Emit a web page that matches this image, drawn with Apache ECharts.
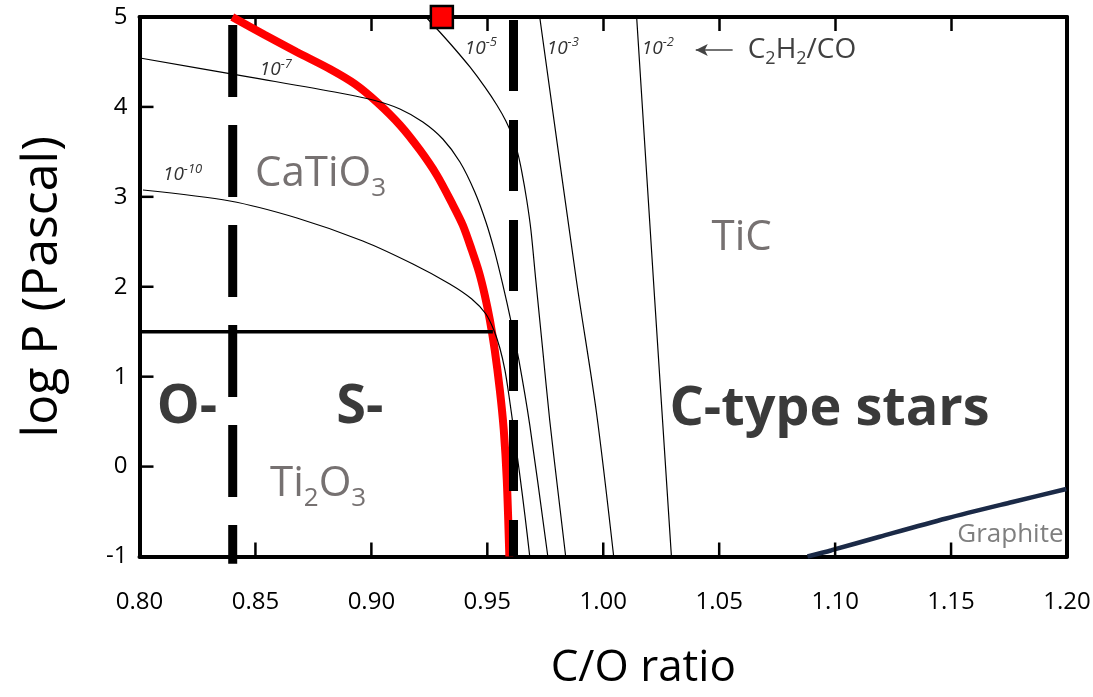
<!DOCTYPE html>
<html>
<head>
<meta charset="utf-8">
<script src="https://cdn.jsdelivr.net/npm/echarts@6/dist/echarts.min.js"></script>
<style>html,body{margin:0;padding:0;background:#fff}#c{width:1093px;height:697px}</style>
</head>
<body>
<div id="c"></div>
<script>
// ---------- data ----------
const xTickValues = [0.80, 0.85, 0.90, 0.95, 1.00, 1.05, 1.10, 1.15, 1.20];
const yTickValues = [-1, 0, 1, 2, 3, 4, 5];

const redCurve = [[0.840,5.0],[0.8541,4.800],[0.8678,4.611],[0.8821,4.422],[0.8929,4.255],[0.9028,4.044],[0.9123,3.799],[0.9209,3.521],[0.9282,3.243],[0.9347,2.932],[0.9394,2.687],[0.9433,2.409],[0.9464,2.164],[0.9489,1.908],[0.9511,1.630],[0.9532,1.297],[0.9554,0.852],[0.9571,0.407],[0.9584,-0.149],[0.9595,-1.0]];
const curveE10 = [[0.8015,3.076],[0.8390,2.954],[0.8679,2.765],[0.8963,2.509],[0.9179,2.253],[0.9338,2.031],[0.9433,1.864],[0.9494,1.697],[0.9528,1.519],[0.9554,1.319],[0.9576,1.074],[0.9593,0.796],[0.9614,0.407],[0.9640,-0.093],[0.9662,-0.538],[0.9683,-1.0]];
const curveE7 = [[0.8002,4.544],[0.8476,4.331],[0.8864,4.155],[0.9015,4.071],[0.9123,3.977],[0.9222,3.832],[0.9308,3.643],[0.9382,3.387],[0.9446,3.054],[0.9494,2.720],[0.9532,2.387],[0.9567,2.020],[0.9601,1.630],[0.9636,1.186],[0.9683,0.463],[0.9761,-1.0]];
const curveE5 = [[0.9235,5.0],[0.9295,4.833],[0.9360,4.644],[0.9425,4.444],[0.9489,4.222],[0.9541,4.021],[0.9580,3.843],[0.9610,3.665],[0.9631,3.488],[0.9649,3.276],[0.9670,2.965],[0.9688,2.631],[0.9709,2.075],[0.9739,1.297],[0.9769,0.518],[0.9804,-0.260],[0.9838,-1.0]];
const curveE3 = [[0.9726,5.0],[0.9884,2.075],[0.9971,0.596],[1.0045,-1.0]];
const curveE2 = [[1.0144,5.0],[1.0222,1.853],[1.0294,-1.0]];
const graphiteCurve = [[1.0881,-1.0],[1.0985,-0.930],[1.1192,-0.780],[1.1479,-0.577],[1.1765,-0.394],[1.1997,-0.250]];
const dashO = [[0.8402,5.0],[0.8402,-1.08]];
const dashS = [[0.9613,5.0],[0.9613,-1.0]];
const boundary15 = [[0.800,1.5],[0.9524,1.5]];
const squarePoint = [[0.9304,5.0]];
const arrowFrom = [1.0558,4.633];
const arrowTo = [1.0399,4.633];

// annotation anchors and texts
const regionAnchors = [[0.8205,0.652],[0.8950,0.652],[1.0976,0.63]];
const regionTexts = ['O-','S-','C-type stars'];
const phaseAnchors = [[0.8498,3.254],[0.8563,-0.193],[1.0597,2.537]];
const phaseTexts = ['{m|CaTiO}{s|3}','{m|Ti}{s|2}{m|O}{s|3}','{m|TiC}'];
const expAnchors = [[0.8101,3.243],[0.8519,4.411],[0.9403,4.652],[0.9756,4.652],[1.0166,4.652]];
const expTexts = ['{b|10}{u|-10}','{b|10}{u|-7}','{b|10}{u|-5}','{b|10}{u|-3}','{b|10}{u|-2}'];
const ratioAnchor = [1.0623,4.633];
const ratioText = '{m|C}{s|2}{m|H}{s|2}{m|/CO}';
const graphiteAnchor = [1.1985,-0.76];
const graphiteText = 'Graphite';

// ---------- chart ----------
const FONT = 'Open Sans';
const chart = echarts.init(document.getElementById('c'));

function thin(data){
  return {type:'line', data, smooth:0.3, symbol:'none', silent:true, z:3,
    lineStyle:{color:'#000', width:1.2}};
}
const labelSeries = (anchors, texts, align, rich, textStyle) => ({
  type:'scatter', symbolSize:1, silent:true, z:10,
  itemStyle:{color:'rgba(0,0,0,0)', opacity:1},
  data: anchors.map((a,i)=>({value:a, label:{formatter:texts[i]}})),
  label:Object.assign({show:true, position:'inside', align, verticalAlign:'middle', rich}, textStyle||{})
});
// inward ticks on bottom / left sides, placed through the axes' own scales
const tickSeries = (data, horizontal) => ({
  type:'custom', data, silent:true, clip:false, z:6,
  renderItem:(params, api) => {
    const p = api.coord([api.value(0), api.value(1)]);
    const shape = horizontal ? {x1:p[0], y1:p[1], x2:p[0]+14, y2:p[1]}
                             : {x1:p[0], y1:p[1], x2:p[0], y2:p[1]-14};
    return {type:'line', shape, style:{stroke:'#000', lineWidth:2.5}};
  }
});

const phaseRich = {
  m:{fontFamily:FONT, fontSize:42, color:'#767171', lineHeight:56},
  s:{fontFamily:FONT, fontSize:26, color:'#767171', lineHeight:26, verticalAlign:'bottom'}
};
const expRich = {
  b:{fontFamily:FONT, fontStyle:'italic', fontSize:19, color:'#333', lineHeight:24},
  u:{fontFamily:FONT, fontStyle:'italic', fontSize:13, color:'#333', lineHeight:14, verticalAlign:'top'}
};
const ratioRich = {
  m:{fontFamily:FONT, fontSize:28, color:'#404040', lineHeight:36},
  s:{fontFamily:FONT, fontSize:18, color:'#404040', lineHeight:20, verticalAlign:'bottom'}
};

const axisCommon = {
  type:'value', splitLine:{show:false},
  axisLine:{show:true, onZero:false, lineStyle:{color:'#000', width:4}},
  axisTick:{show:true, inside:true, length:14, lineStyle:{color:'#000', width:2.5}}
};

chart.setOption({
  animation:false,
  backgroundColor:'#fff',
  grid:{left:139.5, right:26, top:17, bottom:140.5, containLabel:false, outerBoundsMode:'none'},
  xAxis:[
    Object.assign({}, axisCommon, {
      min:0.8, max:1.2, interval:0.05, position:'bottom', axisTick:{show:false},
      axisLabel:{margin:34, fontFamily:FONT, fontSize:24, color:'#000',
        formatter:v=>{const t=xTickValues.find(x=>Math.abs(x-v)<1e-6); return t===undefined?'':t.toFixed(2);}},
      name:'C/O ratio', nameLocation:'middle', nameGap:90,
      nameTextStyle:{fontFamily:FONT, fontSize:44, color:'#000', padding:[0,0,0,80]}
    }),
    Object.assign({}, axisCommon, {
      min:0.8, max:1.2, interval:0.05, position:'top', axisLabel:{show:false}
    })
  ],
  yAxis:[
    Object.assign({}, axisCommon, {
      min:-1, max:5, interval:1, position:'left', axisTick:{show:false},
      axisLabel:{margin:12, fontFamily:FONT, fontSize:24, color:'#000',
        formatter:v=>{const t=yTickValues.find(x=>Math.abs(x-v)<1e-6); return t===undefined?'':String(t);}},
      name:'log P (Pascal)', nameLocation:'middle', nameGap:72, nameRotate:90,
      nameTextStyle:{fontFamily:FONT, fontSize:50, color:'#000'}
    }),
    Object.assign({}, axisCommon, {
      min:-1, max:5, interval:1, position:'right', axisLabel:{show:false}, axisTick:{show:false}
    })
  ],
  series:[
    {type:'line', data:redCurve, smooth:0.3, symbol:'none', silent:true, z:2,
      lineStyle:{color:'#ff0000', width:8}},
    thin(curveE10), thin(curveE7), thin(curveE5), thin(curveE3), thin(curveE2),
    {type:'line', data:graphiteCurve, smooth:0.3, symbol:'none', silent:true, z:3,
      lineStyle:{color:'#1b2a47', width:4.5}},
    {type:'line', data:boundary15, symbol:'none', silent:true, z:4,
      lineStyle:{color:'#000', width:3.5}},
    {type:'line', data:dashO, symbol:'none', silent:true, z:5, clip:false,
      lineStyle:{color:'#000', width:9, type:[72,28], dashOffset:92, cap:'butt'}},
    {type:'line', data:dashS, symbol:'none', silent:true, z:5,
      lineStyle:{color:'#000', width:9, type:[71,29], dashOffset:97, cap:'butt'}},
    {type:'scatter', data:squarePoint, symbol:'rect', symbolSize:22, silent:true, z:8, clip:false,
      itemStyle:{color:'#ff0000', borderColor:'#000', borderWidth:2.5, opacity:1}},
    {type:'line', data:[], silent:true, z:6,
      markLine:{silent:true, symbol:['none','arrow'], symbolSize:[9,12], animation:false,
        label:{show:false}, lineStyle:{color:'#444', width:1.5, type:'solid'},
        data:[[{coord:arrowFrom},{coord:arrowTo}]]}},
    tickSeries(xTickValues.slice(1,-1).map(v=>[v,-1]), false),
    tickSeries(yTickValues.slice(1,-1).map(v=>[0.8,v]), true),
    labelSeries(regionAnchors, regionTexts, 'center', {},
      {fontFamily:FONT, fontWeight:'bold', fontSize:54, color:'#3a3a3a'}),
    labelSeries(phaseAnchors.slice(0,2), phaseTexts.slice(0,2), 'left', phaseRich),
    labelSeries(phaseAnchors.slice(2), phaseTexts.slice(2), 'center', phaseRich),
    labelSeries(expAnchors, expTexts, 'left', expRich),
    labelSeries([ratioAnchor], [ratioText], 'left', ratioRich),
    labelSeries([graphiteAnchor], [graphiteText], 'right', {},
      {fontFamily:FONT, fontSize:26, color:'#7f7f7f'})
  ]
});
</script>
</body>
</html>
